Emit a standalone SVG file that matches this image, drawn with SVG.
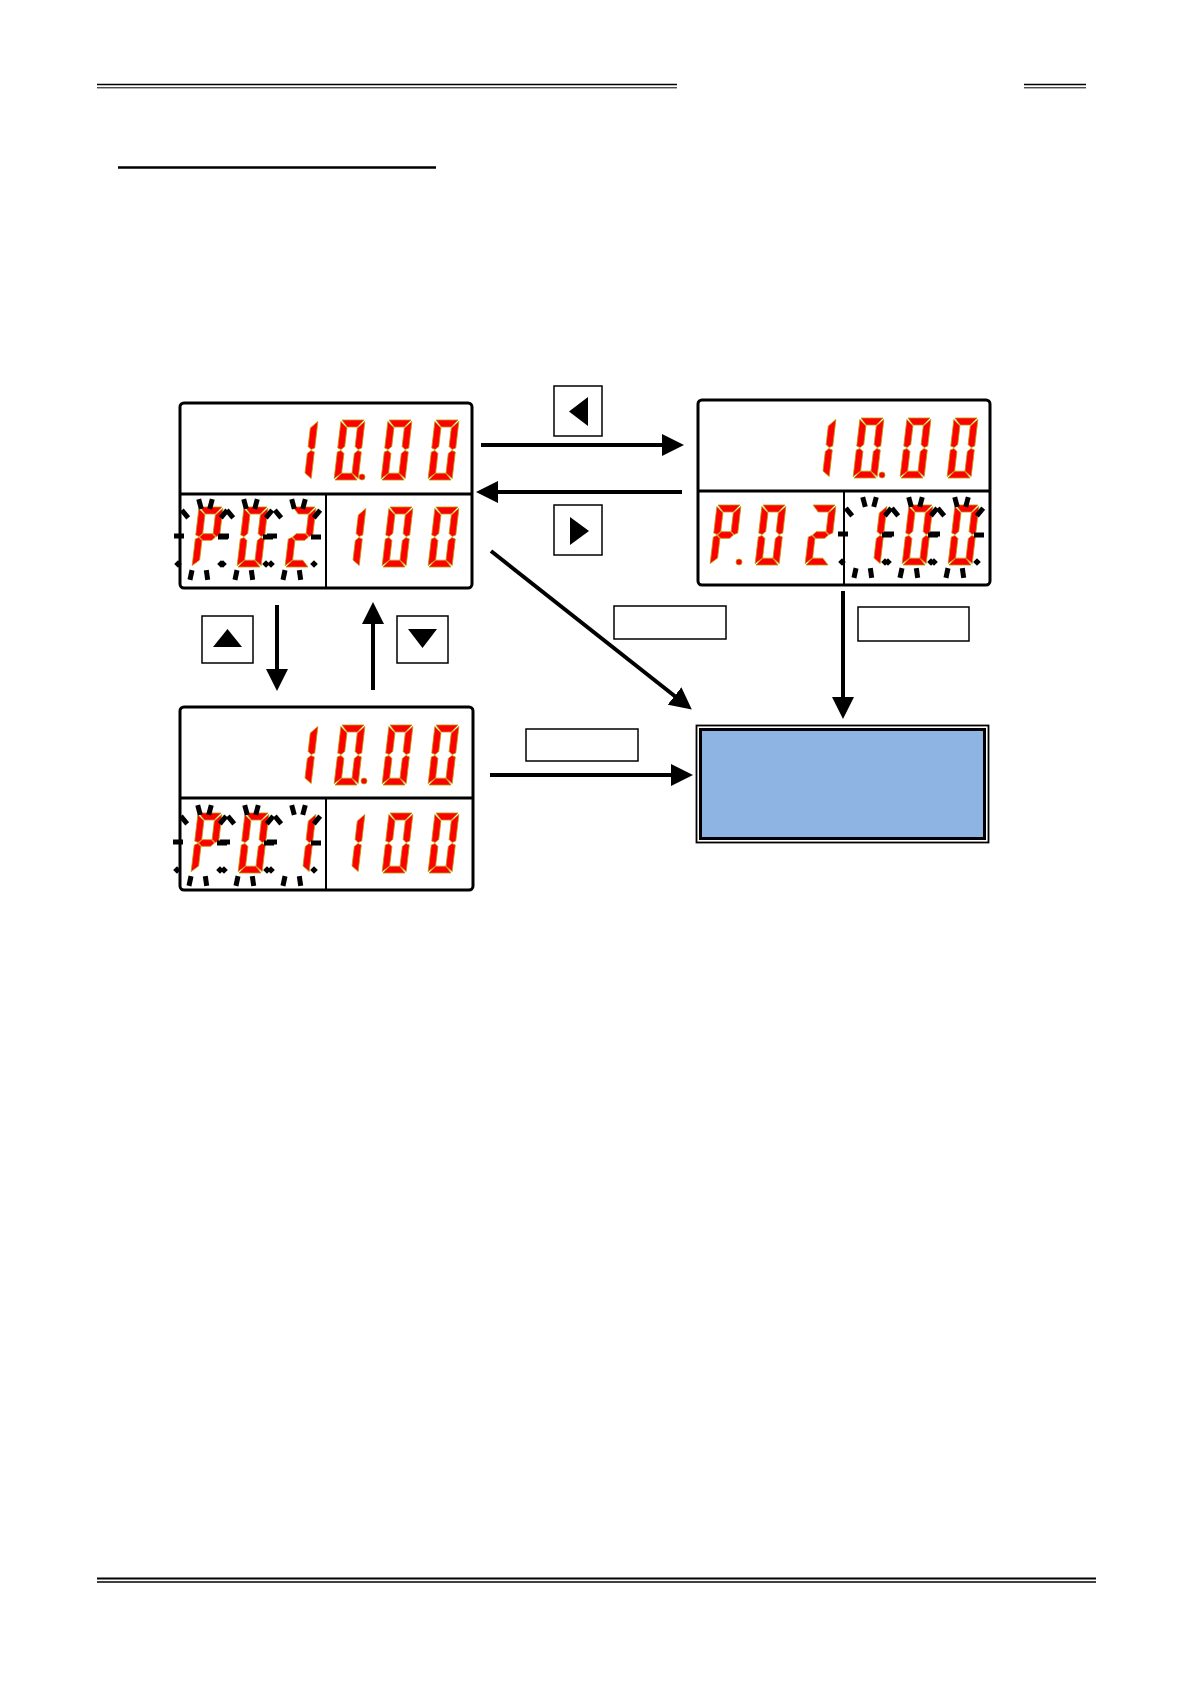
<svg xmlns="http://www.w3.org/2000/svg" xmlns:xlink="http://www.w3.org/1999/xlink" width="1190" height="1684" viewBox="0 0 1190 1684">
<style>
.seg{fill:#ff0000;stroke:#b89a00;stroke-width:0.8;stroke-linejoin:round}
.box{fill:#ffffff;stroke:#000;stroke-width:3}
.div{stroke:#000;stroke-width:3}
.vdiv{stroke:#000;stroke-width:2}
.key{fill:#ffffff;stroke:#000;stroke-width:1.5}
.lbl{fill:#ffffff;stroke:#000;stroke-width:1.5}
.conn{stroke:#000;stroke-width:4;fill:none}
.rule{stroke:#000}
</style>
<defs>
<polygon id="sa" class="seg" points="1,-60 23,-60 17,-53 7,-53"/>
<polygon id="sf" class="seg" points="0,-58.5 6.8,-52 6.8,-33.5 3.5,-30.5 0,-32"/>
<polygon id="sb" class="seg" points="24,-58.5 24,-32 20.5,-30.5 17.2,-33.5 17.2,-52"/>
<polygon id="sg" class="seg" points="4,-30 7.5,-33.3 16.5,-33.3 20,-30 16.5,-26.7 7.5,-26.7"/>
<polygon id="se" class="seg" points="0,-28 3.5,-29.5 6.8,-26.5 6.8,-7 0,-1.5"/>
<polygon id="sc" class="seg" points="24,-28 24,-1.5 17.2,-7 17.2,-26.5 20.5,-29.5"/>
<polygon id="sd" class="seg" points="1,0 7,-6.8 17,-6.8 23,0"/>
<g id="d0"><use xlink:href="#sa"/><use xlink:href="#sb"/><use xlink:href="#sc"/><use xlink:href="#sd"/><use xlink:href="#se"/><use xlink:href="#sf"/></g>
<g id="d1"><use xlink:href="#sb"/><use xlink:href="#sc"/></g>
<g id="d2"><use xlink:href="#sa"/><use xlink:href="#sb"/><use xlink:href="#sg"/><use xlink:href="#se"/><use xlink:href="#sd"/></g>
<g id="dP"><use xlink:href="#sa"/><use xlink:href="#sb"/><use xlink:href="#sf"/><use xlink:href="#sg"/><use xlink:href="#se"/></g>
<circle id="dot" class="seg" r="3" cx="0" cy="0"/>
<g id="rays" fill="#000">
<rect x="-2.5" y="-5" width="5" height="10" transform="translate(-7,-33) rotate(-15)"/>
<rect x="-2.5" y="-5" width="5" height="10" transform="translate(4,-33) rotate(15)"/>
<rect x="-2.5" y="-5" width="5" height="10" transform="translate(-22,-23) rotate(-40)"/>
<rect x="-2.5" y="-5" width="5" height="10" transform="translate(17,-23) rotate(40)"/>
<rect x="-5" y="-2.5" width="10" height="5" transform="translate(-28,-1)"/>
<rect x="-5" y="-2.5" width="10" height="5" transform="translate(16,0)"/>
<rect x="-2.7" y="-2.7" width="5.4" height="5.4" transform="translate(-29,27) rotate(45)"/>
<rect x="-2.7" y="-2.7" width="5.4" height="5.4" transform="translate(14,27) rotate(45)"/>
<rect x="-2.5" y="-5" width="5" height="10" transform="translate(-16,38) rotate(12)"/>
<rect x="-2.5" y="-5" width="5" height="10" transform="translate(0,38) rotate(-8)"/>
</g>
<marker id="ah" markerUnits="userSpaceOnUse" markerWidth="22" markerHeight="22" refX="10" refY="10" orient="auto" viewBox="0 0 20 20">
<path d="M0,0 L20,10 L0,20 z" fill="#000"/>
</marker>
</defs>

<g id="page-rules">
<line class="rule" x1="97" y1="84.5" x2="677" y2="84.5" stroke-width="1.6"/>
<line class="rule" x1="97" y1="87.8" x2="677" y2="87.8" stroke-width="1"/>
<line class="rule" x1="1024" y1="84.5" x2="1086" y2="84.5" stroke-width="1.6"/>
<line class="rule" x1="1024" y1="87.8" x2="1086" y2="87.8" stroke-width="1"/>
<line class="rule" x1="118" y1="167.5" x2="436" y2="167.5" stroke-width="2.5"/>
<line class="rule" x1="97" y1="1578.5" x2="1096" y2="1578.5" stroke-width="1.8"/>
<line class="rule" x1="97" y1="1582" x2="1096" y2="1582" stroke-width="1.3"/>
</g>

<g id="display-p02">
<rect class="box" x="180" y="403" width="292" height="185" rx="4"/>
<line class="div" x1="180" y1="494" x2="472" y2="494"/>
<line class="vdiv" x1="326" y1="494" x2="326" y2="588"/>
<use xlink:href="#d1" transform="translate(287,480) skewX(-6.7)"/>
<use xlink:href="#d0" transform="translate(334,480) skewX(-6.7)"/>
<use xlink:href="#dot" x="362" y="477"/>
<use xlink:href="#d0" transform="translate(381,480) skewX(-6.7)"/>
<use xlink:href="#d0" transform="translate(428,480) skewX(-6.7)"/>
<use xlink:href="#dP" transform="translate(192,567) skewX(-6.7)"/>
<use xlink:href="#d0" transform="translate(237,567) skewX(-6.7)"/>
<use xlink:href="#d2" transform="translate(285,567) skewX(-6.7)"/>
<use xlink:href="#rays" x="207" y="537"/>
<use xlink:href="#rays" x="252" y="537"/>
<use xlink:href="#rays" x="300" y="537"/>
<use xlink:href="#d1" transform="translate(335,567) skewX(-6.7)"/>
<use xlink:href="#d0" transform="translate(382,567) skewX(-6.7)"/>
<use xlink:href="#d0" transform="translate(428,567) skewX(-6.7)"/>
</g>

<g id="display-p02-edit">
<rect class="box" x="698" y="400" width="292" height="185" rx="4"/>
<line class="div" x1="698" y1="491" x2="990" y2="491"/>
<line class="vdiv" x1="844" y1="491" x2="844" y2="585"/>
<use xlink:href="#d1" transform="translate(805,478) skewX(-6.7)"/>
<use xlink:href="#d0" transform="translate(853,478) skewX(-6.7)"/>
<use xlink:href="#dot" x="882" y="475"/>
<use xlink:href="#d0" transform="translate(900,478) skewX(-6.7)"/>
<use xlink:href="#d0" transform="translate(947,478) skewX(-6.7)"/>
<use xlink:href="#dP" transform="translate(710,565) skewX(-6.7)"/>
<use xlink:href="#dot" x="739" y="562"/>
<use xlink:href="#d0" transform="translate(755,565) skewX(-6.7)"/>
<use xlink:href="#d2" transform="translate(805,565) skewX(-6.7)"/>
<use xlink:href="#d1" transform="translate(856,565) skewX(-6.7)"/>
<use xlink:href="#d0" transform="translate(902,565) skewX(-6.7)"/>
<use xlink:href="#d0" transform="translate(948,565) skewX(-6.7)"/>
<use xlink:href="#rays" x="871" y="535"/>
<use xlink:href="#rays" x="917" y="535"/>
<use xlink:href="#rays" x="963" y="535"/>
</g>

<g id="display-p01">
<rect class="box" x="180" y="707" width="293" height="183" rx="4"/>
<line class="div" x1="180" y1="798" x2="473" y2="798"/>
<line class="vdiv" x1="326" y1="798" x2="326" y2="890"/>
<use xlink:href="#d1" transform="translate(287,785) skewX(-6.7)"/>
<use xlink:href="#d0" transform="translate(334,785) skewX(-6.7)"/>
<use xlink:href="#dot" x="364" y="781"/>
<use xlink:href="#d0" transform="translate(382,785) skewX(-6.7)"/>
<use xlink:href="#d0" transform="translate(428,785) skewX(-6.7)"/>
<use xlink:href="#dP" transform="translate(191,873) skewX(-6.7)"/>
<use xlink:href="#d0" transform="translate(238,873) skewX(-6.7)"/>
<use xlink:href="#d1" transform="translate(285,873) skewX(-6.7)"/>
<use xlink:href="#rays" x="206" y="843"/>
<use xlink:href="#rays" x="253" y="843"/>
<use xlink:href="#rays" x="300" y="843"/>
<use xlink:href="#d1" transform="translate(334,873) skewX(-6.7)"/>
<use xlink:href="#d0" transform="translate(382,873) skewX(-6.7)"/>
<use xlink:href="#d0" transform="translate(428,873) skewX(-6.7)"/>
</g>

<g id="result-box">
<rect x="696.5" y="725.5" width="292" height="117" fill="#ffffff" stroke="#000" stroke-width="1.8"/>
<rect x="700.5" y="729.5" width="284" height="109" fill="#8eb4e3" stroke="#000" stroke-width="3"/>
</g>

<g id="key-left">
<rect class="key" x="554" y="386" width="48" height="50"/>
<polygon points="569,411.5 588,397 588,426" fill="#000"/>
</g>
<g id="key-right">
<rect class="key" x="554" y="505" width="48" height="50"/>
<polygon points="589,531 570,517 570,545" fill="#000"/>
</g>
<g id="key-up">
<rect class="key" x="202" y="616" width="51" height="47"/>
<polygon points="227.5,629 213,647 242,647" fill="#000"/>
</g>
<g id="key-down">
<rect class="key" x="397" y="616" width="51" height="47"/>
<polygon points="408,629 437,629 422.5,648" fill="#000"/>
</g>

<g id="label-1"><rect class="lbl" x="614" y="606" width="112" height="33"/></g>
<g id="label-2"><rect class="lbl" x="858" y="607" width="111" height="34"/></g>
<g id="label-3"><rect class="lbl" x="526" y="729" width="112" height="32"/></g>

<g id="connectors">
<line class="conn" x1="481" y1="445" x2="673" y2="445" marker-end="url(#ah)"/>
<line class="conn" x1="682" y1="492" x2="487" y2="492" marker-end="url(#ah)"/>
<line class="conn" x1="277" y1="605" x2="277" y2="680" marker-end="url(#ah)"/>
<line class="conn" x1="373" y1="690" x2="373" y2="613" marker-end="url(#ah)"/>
<line class="conn" x1="491" y1="551" x2="683.2" y2="702.8" marker-end="url(#ah)"/>
<line class="conn" x1="490" y1="775" x2="682" y2="775" marker-end="url(#ah)"/>
<line class="conn" x1="843" y1="591" x2="843" y2="708" marker-end="url(#ah)"/>
</g>
</svg>
